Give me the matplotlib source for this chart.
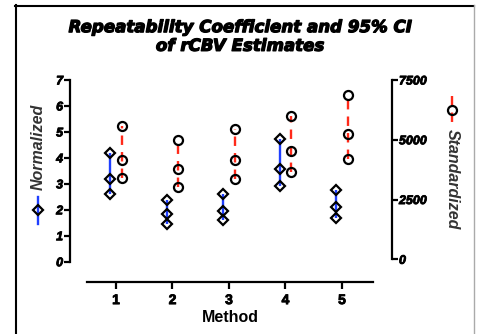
import matplotlib
matplotlib.use("Agg")
import matplotlib.pyplot as plt
from matplotlib.lines import Line2D
import matplotlib.patheffects as pe

plt.rcParams['font.family'] = ['Liberation Sans', 'DejaVu Sans']

# data
methods = [1, 2, 3, 4, 5]
norm_low = [2.60, 1.46, 1.62, 2.92, 1.70]
norm_mid = [3.19, 1.83, 1.97, 3.56, 2.09]
norm_high = [4.20, 2.38, 2.60, 4.72, 2.77]
std_low = [3381, 3037, 3356, 3646, 4185]
std_mid = [4169, 3796, 4144, 4517, 5221]
std_high = [5565, 4997, 5470, 5979, 6878]

W, H = 480, 334
fig = plt.figure(figsize=(W / 100, H / 100), dpi=100)


def fx(px):
    return px / W


def fy(py):
    return 1 - py / H


ax = fig.add_axes([fx(87), fy(261.7), fx(373) - fx(87), fy(80) - fy(261.7)])
ax2 = ax.twinx()

off = 0.1
xb = [m - off for m in methods]
xr = [m + off for m in methods]

# blue: normalized, left axis
ax.vlines(xb, norm_low, norm_high, color='#1f3fff', lw=1.7, zorder=2)
for vals in (norm_low, norm_mid, norm_high):
    ax.plot(xb, vals, ls='none', marker='D', ms=5.5, mfc='none', mec='black', mew=1.6, zorder=3)

# red: standardized, right axis
ax2.vlines(xr, std_low, std_high, color='#ff2a1a', lw=1.7, linestyles=(0, (4, 3)), zorder=2)
for vals in (std_low, std_mid, std_high):
    ax2.plot(xr, vals, ls='none', marker='o', ms=6.5, mfc='none', mec='black', mew=1.6, zorder=3)

ax.set_xlim(0.487, 5.549)
ax.set_ylim(0, 7)
ax2.set_ylim(-99, 7430)
ax.set_yticks(range(8))
ax2.set_yticks([0, 2500, 5000, 7500])
ax2.spines['right'].set_bounds(0, 7500)
ax.set_xticks(methods)

for a in (ax, ax2):
    a.spines['top'].set_visible(False)
    a.set_facecolor('none')
ax.spines['right'].set_visible(False)
ax2.spines['left'].set_visible(False)
ax2.spines['bottom'].set_visible(False)

ax.spines['left'].set_position(('outward', 12.2))
ax.spines['bottom'].set_position(('outward', 14.6))
ax2.spines['right'].set_position(('outward', 13.7))
for sp in (ax.spines['left'], ax.spines['bottom'], ax2.spines['right']):
    sp.set_linewidth(1.6)

ax.tick_params(axis='y', length=4, width=1.6, pad=1)
ax.tick_params(axis='x', length=5, width=1.6, pad=3)
ax2.tick_params(axis='y', length=4, width=1.6, pad=1)

heavy = [pe.withStroke(linewidth=0.6, foreground='black')]
for lab in ax.get_yticklabels() + ax2.get_yticklabels():
    lab.set_fontsize(9)
    lab.set_fontweight('bold')
    lab.set_fontstyle('italic')
    lab.set_path_effects(heavy)
for lab in ax.get_xticklabels():
    lab.set_fontsize(10)
    lab.set_fontweight('bold')
    lab.set_path_effects(heavy)

ax.set_xlabel('Method', fontsize=11.5, fontweight='bold', labelpad=2)

fig.text(0.5, fy(36.5), 'Repeatability Coefficient and 95% CI\nof rCBV Estimates',
         ha='center', va='center', fontsize=12, fontweight='bold',
         fontstyle='italic', linespacing=1.05, family='DejaVu Sans',
         path_effects=[pe.withStroke(linewidth=0.9, foreground='black')])

# legend keys drawn by hand beside the axes
fig.add_artist(Line2D([fx(38), fx(38)], [fy(197), fy(224)], color='#1f3fff', lw=1.7))
fig.add_artist(Line2D([fx(38)], [fy(210)], marker='D', ms=5.5, mfc='none', mec='black', mew=1.6))
fig.text(fx(38), fy(147), 'Normalized', rotation=90, ha='center', va='center',
         fontsize=11.5, fontweight='bold', fontstyle='italic', color='#333333')

fig.add_artist(Line2D([fx(452), fx(452)], [fy(96), fy(124)], color='#ff2a1a', lw=1.7,
                      ls=(0, (4, 3))))
fig.add_artist(Line2D([fx(452)], [fy(110)], marker='o', ms=6.5, mfc='none', mec='black', mew=1.6))
fig.text(fx(452), fy(179), 'Standardized', rotation=-90, ha='center', va='center',
         fontsize=11.5, fontweight='bold', fontstyle='italic', color='#333333')

# frame around the picture
fig.add_artist(Line2D([fx(15.5), fx(15.5)], [fy(5), 0], color='black', lw=1.5))
fig.add_artist(Line2D([fx(15), fx(474)], [fy(5.5), fy(5.5)], color='black', lw=1.5))
fig.add_artist(Line2D([fx(474), fx(474)], [fy(5), 0], color='#aaaaaa', lw=1))

fig.savefig('out.png', dpi=100)
